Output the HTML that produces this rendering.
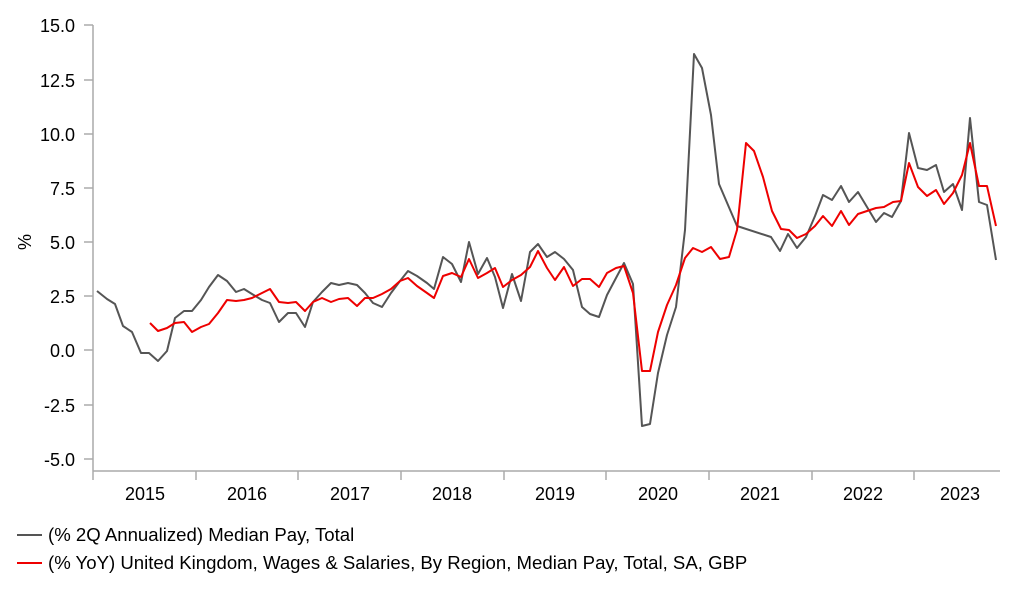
<!DOCTYPE html>
<html><head><meta charset="utf-8"><style>
body{margin:0;background:#fff;}
svg text{font-family:"Liberation Sans",Arial,sans-serif;fill:#000;}
</style></head><body>
<svg width="1022" height="597" viewBox="0 0 1022 597" xmlns="http://www.w3.org/2000/svg">
<g stroke="#aaa" stroke-width="1.5" fill="none">
<line x1="93" y1="25" x2="93" y2="471"/>
<line x1="93" y1="471" x2="1000" y2="471"/>
<line x1="84" y1="25" x2="93" y2="25"/><line x1="84" y1="80" x2="93" y2="80"/><line x1="84" y1="134" x2="93" y2="134"/><line x1="84" y1="188" x2="93" y2="188"/><line x1="84" y1="242" x2="93" y2="242"/><line x1="84" y1="296" x2="93" y2="296"/><line x1="84" y1="350" x2="93" y2="350"/><line x1="84" y1="405" x2="93" y2="405"/><line x1="84" y1="459" x2="93" y2="459"/>
<line x1="93" y1="471" x2="93" y2="480"/><line x1="196" y1="471" x2="196" y2="480"/><line x1="298" y1="471" x2="298" y2="480"/><line x1="401" y1="471" x2="401" y2="480"/><line x1="504" y1="471" x2="504" y2="480"/><line x1="606" y1="471" x2="606" y2="480"/><line x1="709" y1="471" x2="709" y2="480"/><line x1="812" y1="471" x2="812" y2="480"/><line x1="914" y1="471" x2="914" y2="480"/>
</g>
<g font-size="18" text-anchor="end">
<text x="75" y="32">15.0</text><text x="75" y="87">12.5</text><text x="75" y="141">10.0</text><text x="75" y="195">7.5</text><text x="75" y="249">5.0</text><text x="75" y="303">2.5</text><text x="75" y="357">0.0</text><text x="75" y="412">-2.5</text><text x="75" y="466">-5.0</text>
</g>
<g font-size="18" text-anchor="middle">
<text x="145" y="500">2015</text><text x="247" y="500">2016</text><text x="350" y="500">2017</text><text x="452" y="500">2018</text><text x="555" y="500">2019</text><text x="658" y="500">2020</text><text x="760" y="500">2021</text><text x="863" y="500">2022</text><text x="960" y="500">2023</text>
</g>
<text x="31" y="242" font-size="18" text-anchor="middle" transform="rotate(-90 31 242)">%</text>
<polyline fill="none" stroke="#555" stroke-width="2" stroke-linejoin="round" points="97,291 107,299 115,304 123,326 132,332 141,353 149,353 158,361 167,351 175,318 184,311 192,311 201,300 209,287 218,275 227,281 236,292 244,289 252,294 262,300 270,303 279,322 288,313 296,313 305,327 313,302 322,292 331,283 339,285 348,283 357,285 365,293 373,303 382,307 391,293 400,281 408,271 417,276 427,283 434,289 443,257 452,264 461,282 469,242 478,274 487,258 495,277 503,308 512,274 521,301 530,252 538,244 547,257 555,252 564,259 573,270 582,307 590,314 599,317 607,295 616,278 624,263 633,284 642,426 650,424 658,373 667,335 676,307 685,230 694,54 702,68 711,115 719,184 728,205 737,226 771,237 780,251 788,234 797,248 806,237 815,216 823,195 832,200 841,186 849,202 858,192 867,207 876,222 884,213 892,217 901,201 909,133 918,168 927,170 936,165 944,192 953,184 962,210 970,118 979,202 987,205 996,260"/>
<polyline fill="none" stroke="#e00" stroke-width="2" stroke-linejoin="round" points="150,323 158,331 167,328 175,323 184,322 192,332 201,327 209,324 218,313 227,300 236,301 244,300 252,298 262,293 270,289 279,302 288,303 296,302 305,311 313,302 322,298 331,302 339,299 348,298 357,306 365,298 373,298 382,294 391,289 400,281 408,278 417,286 427,293 434,298 443,276 452,273 461,277 469,259 478,278 487,273 495,268 503,287 512,280 521,275 530,267 538,251 547,268 555,280 564,267 573,286 582,279 590,279 599,287 607,273 616,268 624,266 633,293 642,371 650,371 658,332 667,305 676,285 685,258 693,248 702,252 711,247 720,259 729,257 737,230 746,143 754,151 763,177 772,211 781,229 789,230 797,238 806,234 815,226 823,216 832,226 841,211 849,225 858,214 867,211 876,208 884,207 893,202 901,201 909,163 918,187 927,196 936,190 944,204 953,193 962,175 970,143 979,186 987,186 996,226"/>
<line x1="17" y1="535" x2="42" y2="535" stroke="#555" stroke-width="2"/>
<line x1="17" y1="563" x2="42" y2="563" stroke="#e00" stroke-width="2"/>
<text x="48" y="541" font-size="18.6">(% 2Q Annualized) Median Pay, Total</text>
<text x="48" y="569" font-size="18.6">(% YoY) United Kingdom, Wages &amp; Salaries, By Region, Median Pay, Total, SA, GBP</text>
</svg>
</body></html>
